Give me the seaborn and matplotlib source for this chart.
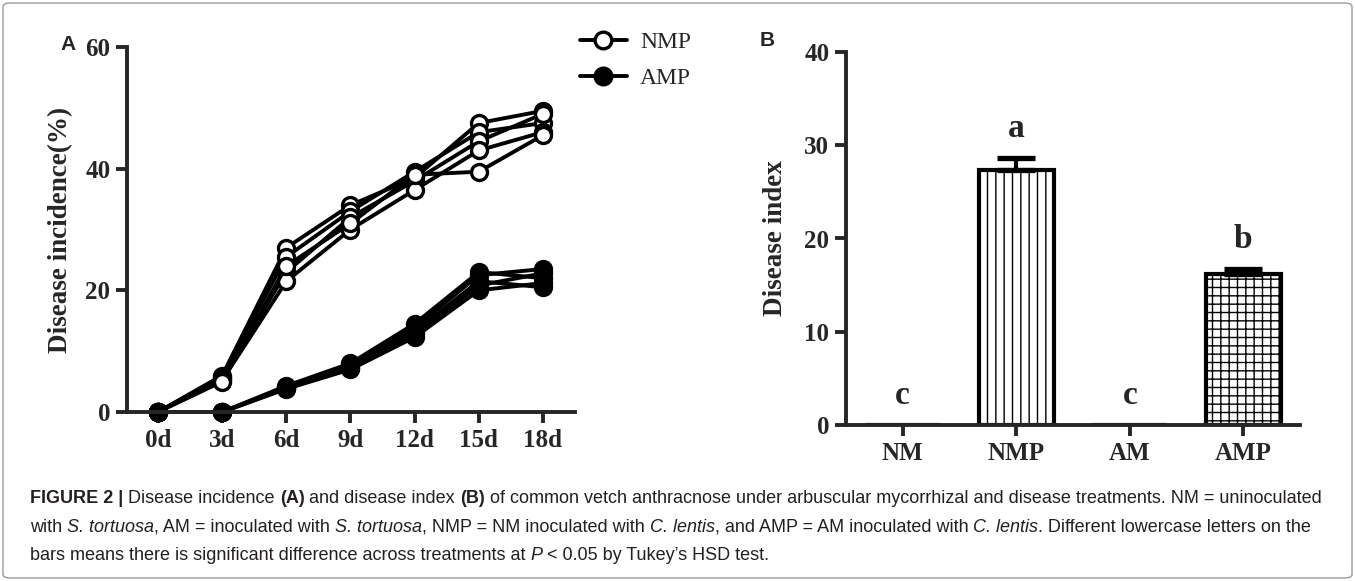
import matplotlib
matplotlib.use("Agg")
import matplotlib.pyplot as plt
from matplotlib import font_manager
from matplotlib.lines import Line2D
from matplotlib.patches import FancyBboxPatch
import numpy as np
import pandas as pd
import seaborn as sns

### --- Data:

days = [0, 3, 6, 9, 12, 15, 18]
day_labels = ["0d", "3d", "6d", "9d", "12d", "15d", "18d"]

# disease incidence (%) of the five NMP replicates
nmp_1 = [0, 6.0, 27.0, 34.0, 38.5, 47.5, 49.5]
nmp_2 = [0, 5.8, 25.5, 33.0, 39.5, 46.0, 47.5]
nmp_3 = [0, 5.5, 23.0, 32.0, 38.0, 44.5, 49.0]
nmp_4 = [0, 5.2, 21.5, 30.0, 36.5, 43.0, 46.0]
nmp_5 = [0, 5.0, 24.0, 31.0, 39.0, 39.5, 45.5]

# disease incidence (%) of the five AMP replicates
amp_1 = [0, 0, 4.3, 8.0, 14.5, 23.0, 22.0]
amp_2 = [0, 0, 4.1, 7.8, 13.8, 22.5, 23.5]
amp_3 = [0, 0, 4.0, 7.5, 13.2, 21.5, 20.5]
amp_4 = [0, 0, 3.9, 7.2, 12.8, 20.8, 22.8]
amp_5 = [0, 0, 3.8, 7.0, 12.3, 20.0, 21.2]

groups = ["NM", "NMP", "AM", "AMP"]
index_mean = [0, 27.3, 0, 16.2]
index_err = [0, 1.3, 0, 0.5]
letters = ["c", "a", "c", "b"]


def long_form(reps):
    # one row per replicate and day
    return pd.DataFrame({
        "day": np.tile(days, len(reps)),
        "value": np.concatenate(reps),
        "rep": np.repeat(np.arange(len(reps)), len(days)),
    })


df_nmp = long_form([nmp_1, nmp_2, nmp_3, nmp_4, nmp_5])
df_amp = long_form([amp_1, amp_2, amp_3, amp_4, amp_5])

### --- Style:

sns.set_style("ticks")
plt.rcParams["font.family"] = ["Liberation Serif", "DejaVu Serif"]
plt.rcParams["font.weight"] = "bold"
plt.rcParams["hatch.linewidth"] = 1.0
plt.rcParams["axes.linewidth"] = 2.8
plt.rcParams["xtick.major.width"] = 2.8
plt.rcParams["ytick.major.width"] = 2.8
plt.rcParams["xtick.major.size"] = 8
plt.rcParams["ytick.major.size"] = 8

fig = plt.figure(figsize=(13.55, 5.81), dpi=100)
W, H = 1355, 581

### --- Panel A: disease incidence

axA = fig.add_axes([127 / W, 1 - 412 / H, (575 - 127) / W, (412 - 47) / H])
common = dict(x="day", y="value", units="rep", estimator=None, color="black",
              lw=2.8, marker="o", markersize=11.5, markeredgecolor="black",
              markeredgewidth=2.4, legend=False, ax=axA, clip_on=False)
sns.lineplot(data=df_nmp, markerfacecolor="white", **common)
sns.lineplot(data=df_amp, markerfacecolor="black", **common)

axA.set_xlim(-1.45, 19.5)
axA.set_ylim(0, 60)
axA.set_xticks(days)
axA.set_xticklabels(day_labels)
axA.set_yticks([0, 20, 40, 60])
axA.tick_params(labelsize=18, pad=4)
axA.set_xlabel("")
axA.set_ylabel("Disease incidence(%)", fontsize=19.5, fontweight="bold", labelpad=9)
sns.despine(ax=axA)

handles = [
    Line2D([], [], color="black", lw=2.8, marker="o", markersize=12,
           markerfacecolor="white", markeredgewidth=2.4),
    Line2D([], [], color="black", lw=2.8, marker="o", markersize=12,
           markerfacecolor="black", markeredgewidth=2.4),
]
fig.legend(handles, ["NMP", "AMP"], loc="upper left", bbox_to_anchor=(568 / W, 1 - 20 / H),
           frameon=False, handlelength=2.0, handletextpad=0.55, labelspacing=0.6,
           borderpad=0, prop={"family": "Liberation Serif", "weight": "normal", "size": 17})

### --- Panel B: disease index

axB = fig.add_axes([846 / W, 1 - 425 / H, (1300 - 846) / W, (425 - 52) / H])
sns.barplot(x=groups, y=index_mean, color="white", edgecolor="black", linewidth=3,
            width=0.66, errorbar=None, ax=axB)
for patch, h in zip(axB.patches, ["", "||", "", "++"]):
    patch.set_hatch(h)
    patch.set_facecolor("white")

has_err = [i for i, e in enumerate(index_err) if e > 0]
axB.errorbar(has_err, [index_mean[i] for i in has_err],
             yerr=[[0] * len(has_err), [index_err[i] for i in has_err]],
             fmt="none", ecolor="black", elinewidth=3, capsize=14, capthick=3.8)

for i, letter in enumerate(letters):
    axB.text(i, index_mean[i] + index_err[i] + 1.5, letter, ha="center", va="bottom",
             fontsize=24, fontweight="bold")

axB.set_xlim(-0.5, 3.5)
axB.set_ylim(0, 40)
axB.set_yticks([0, 10, 20, 30, 40])
axB.tick_params(labelsize=18, pad=4)
axB.set_ylabel("Disease index", fontsize=19.5, fontweight="bold", labelpad=12)
sns.despine(ax=axB)

### --- Panel letters

fig.text(60 / W, 1 - 45 / H, "A", family="Liberation Sans", fontsize=15, fontweight="bold",
         va="center")
fig.text(760 / W, 1 - 40 / H, "B", family="Liberation Sans", fontsize=15, fontweight="bold",
         va="center")

### --- Caption

names = {f.name for f in font_manager.fontManager.ttflist}
cap_font = "Liberation Sans Narrow" if "Liberation Sans Narrow" in names else "Liberation Sans"

caption = [
    [("FIGURE 2 |", "bold", "normal"), (" Disease incidence ", "normal", "normal"),
     ("(A)", "bold", "normal"), (" and disease index ", "normal", "normal"),
     ("(B)", "bold", "normal"),
     (" of common vetch anthracnose under arbuscular mycorrhizal and disease treatments. "
      "NM = uninoculated", "normal", "normal")],
    [("with ", "normal", "normal"), ("S. tortuosa", "normal", "italic"),
     (", AM = inoculated with ", "normal", "normal"), ("S. tortuosa", "normal", "italic"),
     (", NMP = NM inoculated with ", "normal", "normal"), ("C. lentis", "normal", "italic"),
     (", and AMP = AM inoculated with ", "normal", "normal"), ("C. lentis", "normal", "italic"),
     (". Different lowercase letters on the", "normal", "normal")],
    [("bars means there is significant difference across treatments at ", "normal", "normal"),
     ("P", "normal", "italic"), (" < 0.05 by Tukey\u2019s HSD test.", "normal", "normal")],
]
baselines = [503, 532, 560]

fig.canvas.draw()
renderer = fig.canvas.get_renderer()

# pick the size so that the first line spans the caption width
probe = 12
total = 0
for s, wgt, sty in caption[0]:
    t = fig.text(0, 0, s, family=cap_font, fontsize=probe, fontweight=wgt, fontstyle=sty)
    total += t.get_window_extent(renderer).width
    t.remove()
cap_size = probe * (1320 - 30) / total

for line, yb in zip(caption, baselines):
    x = 30
    for s, wgt, sty in line:
        t = fig.text(x / W, 1 - yb / H, s, family=cap_font, fontsize=cap_size,
                     fontweight=wgt, fontstyle=sty, va="baseline", color="#231f20")
        x = t.get_window_extent(renderer).x1

fig.patches.append(FancyBboxPatch((3 / W, 3 / H), 1 - 6 / W, 1 - 6 / H,
                                  boxstyle="round,pad=0,rounding_size=0.006",
                                  transform=fig.transFigure, fill=False,
                                  edgecolor="#9a9a9a", lw=1))

fig.savefig("out.png", dpi=100)
